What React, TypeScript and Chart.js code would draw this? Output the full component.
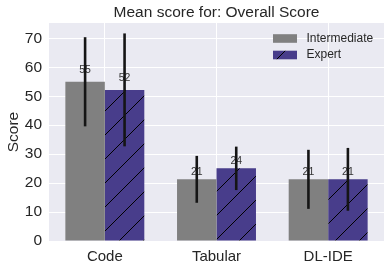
import React, { useEffect, useRef } from "react";
import { Chart, registerables } from "chart.js";

Chart.register(...registerables);

const categories = ["Code", "Tabular", "DL-IDE"];
const seriesNames = ["Intermediate", "Expert"];
const intermediateValues = [55.0, 21.3, 21.3];
const expertValues = [52.2, 25.1, 21.3];
const intermediateErrors = [15.4, 8.1, 10.2];
const expertErrors = [19.5, 7.5, 10.85];
const intermediateLabels = ["55", "21", "21"];
const expertLabels = ["52", "24", "21"];
const yTicks = [0, 10, 20, 30, 40, 50, 60, 70];
const yMax = 75.3;

const FONT = "'Liberation Sans', Arial, sans-serif";
const TEXT = "#262626";
const GRAY = "#808080";
const PURPLE = "#483D8B";

function makeHatch(): CanvasPattern | string {
  const s = 24;
  const c = document.createElement("canvas");
  c.width = s;
  c.height = s;
  const g = c.getContext("2d");
  if (!g) return PURPLE;
  g.fillStyle = PURPLE;
  g.fillRect(0, 0, s, s);
  g.strokeStyle = "#000";
  g.lineWidth = 1;
  g.beginPath();
  g.moveTo(-2, s + 2);
  g.lineTo(s + 2, -2);
  g.moveTo(-2, 2);
  g.lineTo(2, -2);
  g.moveTo(s - 2, s + 2);
  g.lineTo(s + 2, s - 2);
  g.stroke();
  const p = g.createPattern(c, "repeat");
  return p || PURPLE;
}

export default function App() {
  const ref = useRef<HTMLCanvasElement | null>(null);

  useEffect(() => {
    const canvas = ref.current;
    if (!canvas) return;
    const hatch = makeHatch();
    const errors = [intermediateErrors, expertErrors];
    const labels = [intermediateLabels, expertLabels];

    const bgPlugin = {
      id: "bg",
      beforeDraw(chart: any) {
        const { ctx, chartArea } = chart;
        ctx.save();
        ctx.fillStyle = "#EAEAF2";
        ctx.fillRect(chartArea.left, chartArea.top, chartArea.right - chartArea.left, chartArea.bottom - chartArea.top);
        ctx.restore();
      },
    };

    const overlayPlugin = {
      id: "overlay",
      afterDatasetsDraw(chart: any) {
        const { ctx } = chart;
        const y = chart.scales.y;
        ctx.save();
        // value labels
        ctx.font = `10.5px ${FONT}`;
        ctx.fillStyle = "#333333";
        ctx.textAlign = "center";
        ctx.textBaseline = "alphabetic";
        chart.data.datasets.forEach((ds: any, di: number) => {
          const meta = chart.getDatasetMeta(di);
          meta.data.forEach((bar: any, i: number) => {
            const v = ds.data[i];
            ctx.fillText(labels[di][i], bar.x, y.getPixelForValue(v * 1.05) - 1.2);
          });
        });
        // error bars
        ctx.strokeStyle = "#151515";
        ctx.lineWidth = 2.6;
        chart.data.datasets.forEach((ds: any, di: number) => {
          const meta = chart.getDatasetMeta(di);
          meta.data.forEach((bar: any, i: number) => {
            const v = ds.data[i];
            const e = errors[di][i];
            ctx.beginPath();
            ctx.moveTo(bar.x, y.getPixelForValue(v - e));
            ctx.lineTo(bar.x, y.getPixelForValue(v + e));
            ctx.stroke();
          });
        });
        ctx.restore();
      },
      afterDraw(chart: any) {
        const { ctx } = chart;
        ctx.save();
        const rows = [
          { name: seriesNames[0], fill: GRAY, cy: 38.5 },
          { name: seriesNames[1], fill: hatch, cy: 55 },
        ];
        ctx.font = `12px ${FONT}`;
        ctx.textAlign = "left";
        ctx.textBaseline = "middle";
        rows.forEach((r) => {
          ctx.fillStyle = r.fill as any;
          ctx.fillRect(273, r.cy - 4.3, 24, 8.6);
          ctx.fillStyle = TEXT;
          ctx.fillText(r.name, 306.5, r.cy);
        });
        ctx.restore();
      },
    };

    const chart = new Chart(canvas, {
      type: "bar",
      data: {
        labels: categories,
        datasets: [
          {
            label: seriesNames[0],
            data: intermediateValues,
            backgroundColor: GRAY,
            borderWidth: 0,
            categoryPercentage: 0.707,
            barPercentage: 1.0,
          },
          {
            label: seriesNames[1],
            data: expertValues,
            backgroundColor: hatch as any,
            borderWidth: 0,
            categoryPercentage: 0.707,
            barPercentage: 1.0,
          },
        ],
      },
      options: {
        responsive: false,
        animation: false,
        events: [],
        layout: { padding: { top: 0, right: 6, left: 0, bottom: 0 } },
        plugins: {
          legend: { display: false },
          tooltip: { enabled: false },
          title: {
            display: true,
            text: "Mean score for: Overall Score",
            fullSize: false,
            color: TEXT,
            font: { family: FONT, size: 15.5, weight: "normal" as any, lineHeight: 1.2 },
            padding: { top: 3.2, bottom: 1.2 },
          },
        },
        scales: {
          x: {
            offset: true,
            grid: { color: "#FFFFFF", lineWidth: 1, drawTicks: false, offset: false },
            border: { display: false },
            ticks: { color: TEXT, font: { family: FONT, size: 15 }, padding: 7 },
            afterFit(scale: any) {
              scale.height = 28;
            },
          },
          y: {
            min: 0,
            max: yMax,
            grid: { color: "#FFFFFF", lineWidth: 1, drawTicks: false },
            border: { display: false },
            afterBuildTicks(scale: any) {
              scale.ticks = yTicks.map((v) => ({ value: v }));
            },
            ticks: { color: TEXT, font: { family: FONT, size: 15.5 }, padding: 7 },
            title: {
              display: true,
              text: "Score",
              color: TEXT,
              font: { family: FONT, size: 15.5 },
              padding: { top: 4, bottom: 0 },
            },
            afterFit(scale: any) {
              scale.width = 49;
            },
          },
        },
      },
      plugins: [bgPlugin, overlayPlugin],
    });

    return () => chart.destroy();
  }, []);

  return (
    <div style={{ position: "fixed", left: 0, top: 0, width: 390, height: 269 }}>
      <canvas ref={ref} width={390} height={269} />
    </div>
  );
}
